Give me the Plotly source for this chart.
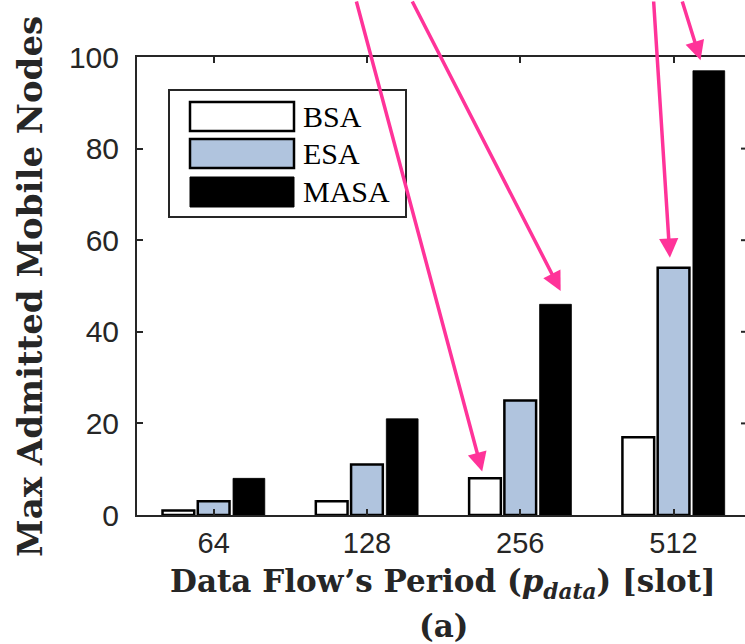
import plotly.graph_objects as go

# ---- data ----
categories = ["64", "128", "256", "512"]
series_names = ["BSA", "ESA", "MASA"]
bsa = [1, 3, 8, 17]
esa = [3, 11, 25, 54]
masa = [8, 21, 46, 97]
y_ticks = [0, 20, 40, 60, 80, 100]

# ---- style ----
W, H = 745, 644
L, R, T, B = 137, 0, 57, 129
PW, PH = W - L - R, H - T - B
UNIT_PX = 153.3
AX = "#262626"
PINK = "#FF3399"
fills = ["white", "#B0C4DE", "black"]
lines = [2.5, 2.5, 0.8]
BARGAP, GROUPGAP = 0.31, 0.1

xpos = list(range(1, len(categories) + 1))
vals = [bsa, esa, masa]

fig = go.Figure()
for name, v, fc, lw in zip(series_names, vals, fills, lines):
    fig.add_trace(go.Bar(x=xpos, y=v, name=name, marker=dict(color=fc, line=dict(color="black", width=lw)),
                         showlegend=False))

def px_x(p):
    return (p - L) / PW

def px_y(p):
    return (T + PH - p) / PH

shapes = []
annotations = []

# custom legend
shapes.append(dict(type="rect", xref="paper", yref="paper", x0=px_x(169), x1=px_x(406), y0=px_y(217), y1=px_y(90),
                   line=dict(color=AX, width=2), fillcolor="white", layer="above"))
rows = [(102, 131), (139, 168), (177, 207)]
for (r0, r1), name, fc, lw in zip(rows, series_names, fills, lines):
    shapes.append(dict(type="rect", xref="paper", yref="paper", x0=px_x(190), x1=px_x(294), y0=px_y(r1), y1=px_y(r0),
                       line=dict(color="black", width=max(lw, 1)), fillcolor=fc, layer="above"))
    annotations.append(dict(xref="paper", yref="paper", x=px_x(301), y=px_y((r0 + r1) / 2), text=name,
                            showarrow=False, xanchor="left", yanchor="middle",
                            font=dict(family="Liberation Serif", size=30, color="black")))

# right-side inner ticks (axis itself lies beyond the crop)
for t in y_ticks[1:-1]:
    shapes.append(dict(type="line", xref="paper", yref="y", x0=1 - 4 / PW, x1=1, y0=t, y1=t,
                       line=dict(color=AX, width=2)))

# arrows pointing at bars: (series, category, ax, ay, standoff, xshift)
slot = (1 - BARGAP) / 3
arrows = [(0, 2, -128, -527, 7, -1), (2, 2, -156, -352, 15, 12), (1, 3, -17, -317, 10, -3), (2, 3, -22, -119, 11, -5)]
for s, c, ax, ay, so, xs in arrows:
    annotations.append(dict(x=xpos[c] + (s - 1) * slot, y=vals[s][c], xref="x", yref="y", ax=ax, ay=ay,
                            text="", showarrow=True, arrowhead=2, arrowsize=1.1, arrowwidth=3.5,
                            arrowcolor=PINK, standoff=so, xshift=xs))

# axis titles
annotations.append(dict(xref="paper", yref="paper", x=px_x(443), y=px_y(583),
                        text="<b>Data Flow’s Period (<i>p<sub>data</sub></i>) [slot]</b>", showarrow=False,
                        xanchor="center", yanchor="middle", font=dict(family="DejaVu Serif", size=31, color=AX)))
annotations.append(dict(xref="paper", yref="paper", x=px_x(443), y=px_y(626), text="<b>(a)</b>", showarrow=False,
                        xanchor="center", yanchor="middle", font=dict(family="DejaVu Serif", size=31, color=AX)))
annotations.append(dict(xref="paper", yref="paper", x=px_x(30), y=px_y(287),
                        text="<b>Max Ad" + "mitted Mobile Nodes</b>",
                        showarrow=False, textangle=-90, xanchor="center", yanchor="middle",
                        font=dict(family="DejaVu Serif", size=34, color=AX)))

fig.update_layout(
    width=W, height=H, margin=dict(l=L, r=R, t=T, b=B, pad=0),
    paper_bgcolor="white", plot_bgcolor="white",
    barmode="group", bargap=BARGAP, bargroupgap=GROUPGAP,
    shapes=shapes, annotations=annotations,
    xaxis=dict(range=[0.5, 0.5 + PW / UNIT_PX], tickvals=xpos, ticktext=categories, showgrid=False, zeroline=False,
               showline=True, linecolor=AX, linewidth=2, mirror="ticks", ticks="inside", ticklen=6, tickwidth=2,
               tickcolor=AX, ticklabelstandoff=1, tickfont=dict(family="Liberation Sans", size=29, color=AX)),
    yaxis=dict(range=[0, 100], tickvals=y_ticks, showgrid=False, zeroline=False, showline=True, linecolor=AX,
               linewidth=2, ticks="inside", ticklen=6, tickwidth=2, tickcolor=AX, ticklabelstandoff=10,
               tickfont=dict(family="Liberation Sans", size=30, color=AX)),
)

fig.write_html("out.html")
